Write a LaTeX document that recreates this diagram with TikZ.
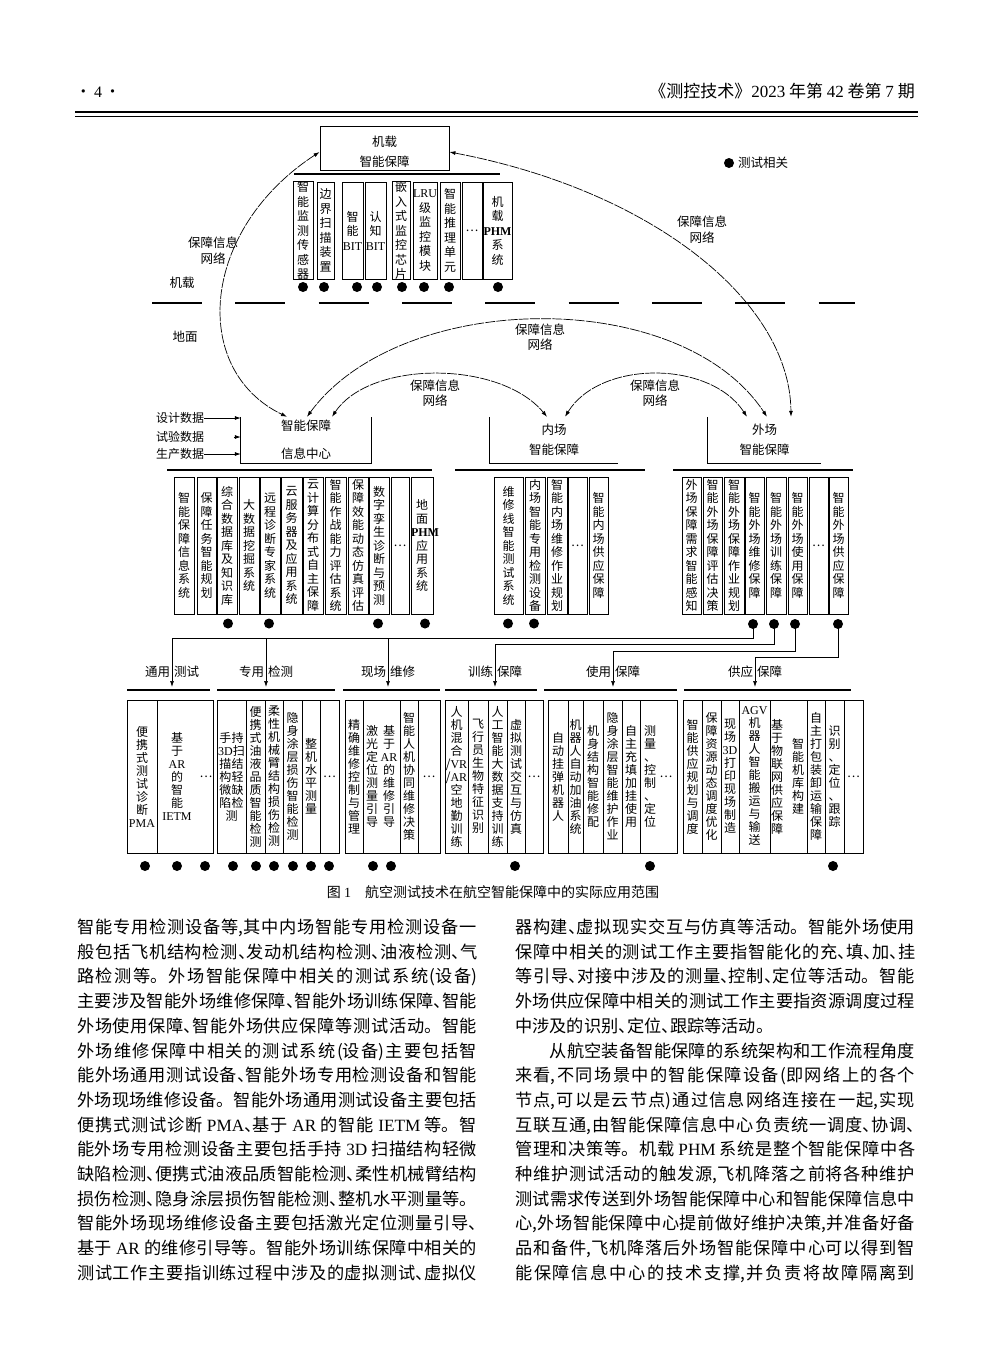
\documentclass[tikz,border=0pt]{standalone}
\usepackage{fontspec}
\setmainfont{Noto Sans CJK SC}
\newfontfamily\latf{Liberation Serif}
\usetikzlibrary{arrows.meta}
\XeTeXlinebreaklocale "zh"
\XeTeXlinebreakskip=0pt plus 3pt minus 0.4pt
\newcommand\LT[1]{{\latf #1}}
\newcommand\LB[1]{{\latf\bfseries #1}}
\newcommand\dn{\makebox[0.5em][l]{、}}
\makeatletter
\let\vt@end\relax
\def\vt@endd{\vt@end}
\def\vt#1{\vt@a#1\vt@end}
\def\vt@a#1{#1\vt@b}
\def\vt@b#1{\def\vt@t{#1}\ifx\vt@t\vt@endd\expandafter\@gobble\else\expandafter\@firstofone\fi{\par#1\vt@b}}
\makeatother
\newcommand\cel[7]{\node[#1, text width=#5pt, minimum height=#6pt] (#2) at (#3,#4) {\vt{#7}};}
\newcommand\bl[4]{\node[bodyline] (#1) at (#2,#3) {\parfillskip=0pt\relax #4\par};}
\newcommand\blr[4]{\node[bodyline] (#1) at (#2,#3) {#4\par};}
\tikzset{
  cellbase/.style={inner sep=0pt, align=center},
  cellA/.style={cellbase, draw, line width=0.9pt, font=\fontsize{12}{14.5}\selectfont},
  cellB/.style={cellbase, draw, line width=0.9pt, font=\fontsize{12}{13.5}\selectfont},
  cellC/.style={cellbase, draw, line width=0.9pt, font=\fontsize{12}{13}\selectfont},
  ctext/.style={cellbase, font=\fontsize{12}{13}\selectfont},
  bar/.style={line width=2.4pt},
  tdot/.style={circle, fill=black, inner sep=0pt, minimum size=10pt},
  lbl/.style={inner sep=0pt, align=center, font=\fontsize{12.5}{15.5}\selectfont},
  conn/.style={line width=0.7pt},
  arr/.style={conn, -{Latex[length=6pt,width=4pt]}},
  curve/.style={line width=0.7pt, dash pattern=on 10pt off 1.2pt, {Latex[length=6pt,width=4pt]}-{Latex[length=6pt,width=4pt]}},
  hub/.style={inner sep=0pt, align=center, minimum height=46pt},
  bodyline/.style={anchor=base west, text width=400pt, inner sep=0pt, align=justify, font=\fontsize{17.2}{24.7}\selectfont},
}
\begin{document}
\begin{tikzpicture}[x=1pt, y=-1pt]
\useasboundingbox (0,0) rectangle (992,1347);
\fill[white] (0,0) rectangle (992,1347);

% header
\node[anchor=base, inner sep=0pt, font=\fontsize{16}{16}\selectfont] (pg) at (98,97) {·\,\LT{4}\,·};
\node[anchor=base east, inner sep=0pt, font=\fontsize{17}{17}\selectfont] (jn) at (915,97) {《测控技术》\LT{2023} 年第 \LT{42} 卷第 \LT{7} 期};
\draw[line width=1.2pt] (75,112) -- (918,112);
\draw[line width=0.6pt] (75,116) -- (918,116);

% airborne hub
\node[draw, line width=0.9pt, minimum width=129pt, minimum height=44pt, inner sep=0pt] (jz) at (384.5,148) {};
\node[lbl, font=\fontsize{12.5}{20}\selectfont] (jzt) at (384.5,152) {机载\\智能保障};
\draw[bar] (294,174) -- (500,174);

\cel{cellA}{t1}{303}{230.5}{20}{97}{智能监测传感器}
\cel{cellA}{t2}{325.5}{230.5}{17}{97}{边界扫描装置}
\cel{cellA}{t3}{352.5}{230.5}{21}{97}{智能{\LT{BIT}}}
\cel{cellA}{t4}{375.5}{230.5}{21}{97}{认知{\LT{BIT}}}
\cel{cellA}{t5}{401}{230.5}{18}{97}{嵌入式监控芯片}
\cel{cellA}{t6}{425}{230.5}{24}{97}{{\LT{LRU}}级监控模块}
\cel{cellA}{t7}{450}{230.5}{20}{97}{智能推理单元}
\cel{cellA}{t8}{472}{230.5}{20}{97}{…}
\cel{cellA}{t9}{497.5}{230.5}{29}{97}{机载{\LB{PHM}}系统}
\foreach \x [count=\i] in {303,324,357,377,402,424,449,498} {\node[tdot] (td\i) at (\x,287) {};}

% legend
\node[tdot] (lg) at (729,163) {};
\node[lbl, anchor=west] (lgt) at (738,163) {测试相关};

% air/ground divider
\draw[line width=2.6pt, dash pattern=on 50pt off 33.33pt] (152,303) -- (855,303);
\node[lbl] (air) at (182,283) {机载};
\node[lbl] (gnd) at (185,337) {地面};

% ground hubs
\node[hub, minimum width=130pt, font=\fontsize{12.5}{28}\selectfont] (zx) at (306,440) {智能保障\\信息中心};
\draw[line width=0.9pt] (zx.north west) |- (zx.south east) -- (zx.north east);
\node[hub, minimum width=128pt, font=\fontsize{12.5}{20}\selectfont] (nc) at (554,440) {内场\\智能保障};
\draw[line width=0.9pt] (nc.north west) |- (nc.south east);
\node[hub, minimum width=113pt, font=\fontsize{12.5}{20}\selectfont] (wc) at (764.5,440) {外场\\智能保障};
\draw[line width=0.9pt] (wc.north west) |- (wc.south east);

% inputs
\node[lbl, font=\fontsize{12}{12}\selectfont] (in1) at (180,418) {设计数据};
\node[lbl, font=\fontsize{12}{12}\selectfont] (in2) at (180,437) {试验数据};
\node[lbl, font=\fontsize{12}{12}\selectfont] (in3) at (180,454) {生产数据};
\draw[arr] (in1.east) -- (in1.east -| zx.west);
\draw[arr] ([xshift=-7pt]zx.west |- in2) -- (zx.west |- in2);
\draw[arr] (in3.east) -- (in3.east -| zx.west);

% network curves
\draw[curve] ([yshift=-4pt]jz.west) .. controls (200,230) and (190,370) .. ([xshift=-19pt]zx.north);
\draw[curve] ([yshift=-4pt]jz.east) .. controls (650,190) and (790,300) .. ([xshift=26.5pt]wc.north);
\draw[curve] ([xshift=1pt]zx.north) .. controls (400,290) and (680,285) .. ([xshift=2.5pt]wc.north);
\draw[curve] ([xshift=26pt]zx.north) .. controls (370,360) and (500,360) .. ([xshift=-7pt]nc.north);
\draw[curve] ([xshift=11pt]nc.north) .. controls (600,360) and (710,360) .. ([xshift=-17.5pt]wc.north);
\node[lbl] (nl1) at (213,250.5) {保障信息\\网络};
\node[lbl] (nl2) at (702,229.5) {保障信息\\网络};
\node[lbl] (nl3) at (540,337) {保障信息\\网络};
\node[lbl] (nl4) at (435,393) {保障信息\\网络};
\node[lbl] (nl5) at (655,393) {保障信息\\网络};

% second row
\draw[bar] (167,470) -- (432,470);
\draw[bar] (455,470) -- (645,470);
\draw[bar] (673,470) -- (853,470);
\cel{cellB}{m1}{184}{545.5}{20}{137}{智能保障信息系统}
\cel{cellB}{m2}{206.5}{545.5}{19}{137}{保障任务智能规划}
\cel{cellB}{m3}{227}{545.5}{20}{137}{综合数据库及知识库}
\cel{cellB}{m4}{249}{545.5}{20}{137}{大数据挖掘系统}
\cel{cellB}{m5}{270}{545.5}{20}{137}{远程诊断专家系统}
\cel{cellB}{m6}{291.5}{545.5}{21}{137}{云服务器及应用系统}
\cel{cellB}{m7}{313}{545.5}{20}{137}{云计算分布式自主保障}
\cel{cellB}{m8}{335.5}{545.5}{21}{137}{智能作战能力评估系统}
\cel{cellB}{m9}{358}{545.5}{20}{137}{保障效能动态仿真评估}
\cel{cellB}{m10}{379}{545.5}{20}{137}{数字孪生诊断与预测}
\cel{cellB}{m11}{400}{545.5}{18}{137}{…}
\cel{cellB}{m12}{422}{545.5}{22}{137}{地面{\LB{PHM}}应用系统}
\cel{cellB}{n1}{508.5}{545.5}{29}{137}{维修线智能测试系统}
\cel{cellB}{n2}{535}{545.5}{20}{137}{内场智能专用检测设备}
\cel{cellB}{n3}{557}{545.5}{20}{137}{智能内场维修作业规划}
\cel{cellB}{n4}{577.5}{545.5}{19}{137}{…}
\cel{cellB}{n5}{598.5}{545.5}{19}{137}{智能内场供应保障}
\cel{cellB}{w1}{691.5}{545.5}{19}{137}{外场保障需求智能感知}
\cel{cellB}{w2}{712.5}{545.5}{19}{137}{智能外场保障评估决策}
\cel{cellB}{w3}{734}{545.5}{20}{137}{智能外场保障作业规划}
\cel{cellB}{w4}{754.5}{545.5}{19}{137}{智能外场维修保障}
\cel{cellB}{w5}{776}{545.5}{20}{137}{智能外场训练保障}
\cel{cellB}{w6}{797.5}{545.5}{19}{137}{智能外场使用保障}
\cel{cellB}{w7}{818.5}{545.5}{19}{137}{…}
\cel{cellB}{w8}{838.5}{545.5}{19}{137}{智能外场供应保障}
\foreach \x [count=\i] in {228,269,378,425,508,534} {\node[tdot] (md\i) at (\x,623.5) {};}
\node[tdot] (wd4) at (753,624) {};
\node[tdot] (wd5) at (774,624) {};
\node[tdot] (wd6) at (795,624) {};
\node[tdot] (wd8) at (838,624) {};

% distribution connectors
\coordinate (j1) at (172,638); \coordinate (j2) at (266,638); \coordinate (j3) at (388,638);
\coordinate (j4) at (495,644); \coordinate (j5) at (613,651); \coordinate (j6) at (755,657);
\coordinate (a1) at (172,687); \coordinate (a2) at (266,687); \coordinate (a3) at (388,687);
\coordinate (a4) at (495,687); \coordinate (a5) at (613,687); \coordinate (a6) at (755,687);
\draw[conn] (wd4.center) |- (j1);
\draw[conn] (wd5.center) |- (j4);
\draw[conn] (wd6.center) |- (j5);
\draw[conn] (wd8.center) |- (j6);
\foreach \k in {1,...,6} {\draw[arr] (j\k) -- (a\k);}
\node[lbl] (k1) at (172,672) {通用\hspace{4pt}测试};
\node[lbl] (k2) at (266,672) {专用\hspace{4pt}检测};
\node[lbl] (k3) at (388,672) {现场\hspace{4pt}维修};
\node[lbl] (k4) at (495,672) {训练\hspace{4pt}保障};
\node[lbl] (k5) at (613,672) {使用\hspace{4pt}保障};
\node[lbl] (k6) at (755,672) {供应\hspace{4pt}保障};
\draw[bar] (127,690) -- (210,690);
\draw[bar] (217,690) -- (335,690);
\draw[bar] (343,690) -- (440,690);
\draw[bar] (445,690) -- (537,690);
\draw[bar] (544,690) -- (677,690);
\draw[bar] (684,690) -- (851,690);

% third row
\cel{cellC}{g1}{142}{776.5}{30}{153}{便携式测试诊断{\LT{PMA}}}
\node[cellC, text width=56pt, minimum height=153pt] (g2) at (185,776.5) {};
\node[ctext, text width=30pt] (g2a) at (177,776.5) {\vt{基于{\LT{AR}}的智能{\LT{IETM}}}};
\node[ctext] (g2b) at (206,776.5) {…};
\cel{cellC}{s1}{231.5}{776.5}{29}{153}{{手持}{\LT{3D}扫}{描结}{构轻}{微缺}{陷检}测}
\cel{cellC}{s2}{255.5}{776.5}{19}{153}{便携式油液品质智能检测}
\cel{cellC}{s3}{274}{776.5}{18}{153}{柔性机械臂结构损伤检测}
\cel{cellC}{s4}{292.5}{776.5}{19}{153}{隐身涂层损伤智能检测}
\cel{cellC}{s5}{311}{776.5}{18}{153}{整机水平测量}
\cel{cellC}{s6}{329.5}{776.5}{19}{153}{…}
\cel{cellC}{x1}{354}{776.5}{18}{153}{精确维修控制与管理}
\node[cellC, text width=37pt, minimum height=153pt] (x2) at (381.5,776.5) {};
\node[ctext, text width=16pt] (x2a) at (372,776.5) {\vt{激光定位测量引导}};
\node[ctext, text width=20pt] (x2b) at (389,776.5) {\vt{基于{\LT{AR}}的维修引导}};
\cel{cellC}{x3}{409}{776.5}{18}{153}{智能人机协同维修决策}
\cel{cellC}{x4}{429}{776.5}{22}{153}{…}
\cel{cellC}{r1}{456.5}{776.5}{23}{153}{人机混合{/\LT{VR}}{/\LT{AR}}空地勤训练}
\cel{cellC}{r2}{478}{776.5}{20}{153}{飞行员生物特征识别}
\cel{cellC}{r3}{497.5}{776.5}{19}{153}{人工智能大数据支持训练}
\cel{cellC}{r4}{516}{776.5}{18}{153}{虚拟测试交互与仿真}
\cel{cellC}{r5}{534}{776.5}{18}{153}{…}
\cel{cellC}{u1}{558}{776.5}{20}{153}{自动挂弹机器人}
\cel{cellC}{u2}{575.5}{776.5}{15}{153}{机器人自动加油系统}
\cel{cellC}{u3}{593}{776.5}{20}{153}{机身结构智能修配}
\cel{cellC}{u4}{612.5}{776.5}{19}{153}{隐身涂层智能维护作业}
\cel{cellC}{u5}{631}{776.5}{18}{153}{自主充填加挂使用}
\node[cellC, text width=37pt, minimum height=153pt] (u6) at (658.5,776.5) {};
\node[ctext, text width=16pt] (u6a) at (650,776.5) {\vt{测量、控制、定位}};
\node[ctext] (u6b) at (666,776.5) {…};
\cel{cellC}{p1}{692.5}{776.5}{19}{153}{智能供应规划与调度}
\cel{cellC}{p2}{711.5}{776.5}{19}{153}{保障资源动态调度优化}
\cel{cellC}{p3}{730}{776.5}{18}{153}{现场{\LT{3D}}打印现场制造}
\cel{cellC}{p4}{754.5}{776.5}{31}{153}{{\LT{AGV}}机器人智能搬运与输送}
\node[cellC, text width=37pt, minimum height=153pt] (p5) at (788.5,776.5) {};
\node[ctext, text width=16pt] (p5a) at (777,776.5) {\vt{基于物联网供应保障}};
\node[ctext, text width=16pt] (p5b) at (798,776.5) {\vt{智能机库构建}};
\cel{cellC}{p6}{816}{776.5}{18}{153}{自主打包装卸运输保障}
\cel{cellC}{p7}{834.5}{776.5}{19}{153}{识别、定位、跟踪}
\cel{cellC}{p8}{853.5}{776.5}{19}{153}{…}
\foreach \x [count=\i] in {145,177,205,233,256,274,293,311,329,373,391,515,650,833} {\node[tdot] (bd\i) at (\x,866) {};}

% caption
\node[anchor=base, inner sep=0pt, font=\fontsize{14}{14}\selectfont] (cap) at (493,897) {图 \LT{1}\quad 航空测试技术在航空智能保障中的实际应用范围};

% body text, left column
\bl{l1}{77}{933.5}{智能专用检测设备等,其中内场智能专用检测设备一}
\bl{l2}{77}{958.2}{般包括飞机结构检测\dn 发动机结构检测\dn 油液检测\dn 气}
\bl{l3}{77}{982.9}{路检测等。外场智能保障中相关的测试系统(设备)}
\bl{l4}{77}{1007.6}{主要涉及智能外场维修保障\dn 智能外场训练保障\dn 智能}
\bl{l5}{77}{1032.3}{外场使用保障\dn 智能外场供应保障等测试活动。智能}
\bl{l6}{77}{1057.0}{外场维修保障中相关的测试系统(设备)主要包括智}
\bl{l7}{77}{1081.7}{能外场通用测试设备\dn 智能外场专用检测设备和智能}
\bl{l8}{77}{1106.4}{外场现场维修设备。智能外场通用测试设备主要包括}
\bl{l9}{77}{1131.1}{便携式测试诊断 \LT{PMA}\dn 基于 \LT{AR} 的智能 \LT{IETM} 等。智}
\bl{l10}{77}{1155.8}{能外场专用检测设备主要包括手持 \LT{3D} 扫描结构轻微}
\bl{l11}{77}{1180.5}{缺陷检测\dn 便携式油液品质智能检测\dn 柔性机械臂结构}
\bl{l12}{77}{1205.2}{损伤检测\dn 隐身涂层损伤智能检测\dn 整机水平测量等。}
\bl{l13}{77}{1229.9}{智能外场现场维修设备主要包括激光定位测量引导\dn}
\bl{l14}{77}{1254.6}{基于 \LT{AR} 的维修引导等。智能外场训练保障中相关的}
\bl{l15}{77}{1279.3}{测试工作主要指训练过程中涉及的虚拟测试\dn 虚拟仪}

% body text, right column
\bl{r1}{515}{933.5}{器构建\dn 虚拟现实交互与仿真等活动。智能外场使用}
\bl{r2}{515}{958.2}{保障中相关的测试工作主要指智能化的充\dn 填\dn 加\dn 挂}
\bl{r3}{515}{982.9}{等引导\dn 对接中涉及的测量\dn 控制\dn 定位等活动。智能}
\bl{r4}{515}{1007.6}{外场供应保障中相关的测试工作主要指资源调度过程}
\blr{r5}{515}{1032.3}{中涉及的识别\dn 定位\dn 跟踪等活动。}
\bl{r6}{515}{1057.0}{\hspace*{2em}从航空装备智能保障的系统架构和工作流程角度}
\bl{r7}{515}{1081.7}{来看,不同场景中的智能保障设备(即网络上的各个}
\bl{r8}{515}{1106.4}{节点,可以是云节点)通过信息网络连接在一起,实现}
\bl{r9}{515}{1131.1}{互联互通,由智能保障信息中心负责统一调度\dn 协调\dn}
\bl{r10}{515}{1155.8}{管理和决策等。机载 \LT{PHM} 系统是整个智能保障中各}
\bl{r11}{515}{1180.5}{种维护测试活动的触发源,飞机降落之前将各种维护}
\bl{r12}{515}{1205.2}{测试需求传送到外场智能保障中心和智能保障信息中}
\bl{r13}{515}{1229.9}{心,外场智能保障中心提前做好维护决策,并准备好备}
\bl{r14}{515}{1254.6}{品和备件,飞机降落后外场智能保障中心可以得到智}
\bl{r15}{515}{1279.3}{能保障信息中心的技术支撑,并负责将故障隔离到}
\end{tikzpicture}
\end{document}
